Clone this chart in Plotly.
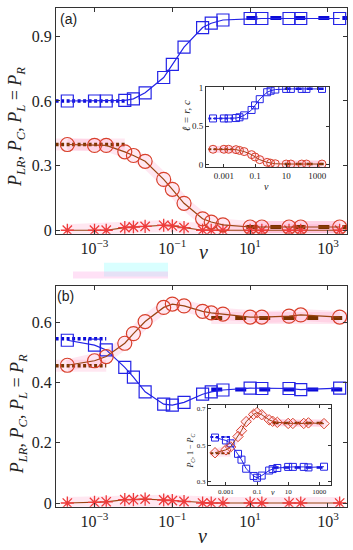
import plotly.graph_objects as go

W, H = 353, 550

# ---------------- data ----------------
nu = [2e-4, 1e-3, 2e-3, 6e-3, 1e-2, 2e-2, 6e-2, 0.1, 0.2, 0.6, 1, 2, 10, 20, 100, 200, 2000]

a_blue = [0.600, 0.600, 0.600, 0.603, 0.610, 0.638, 0.709, 0.770, 0.850, 0.941, 0.961, 0.976, 0.983, 0.983, 0.983, 0.983, 0.983]
a_red = [0.398, 0.394, 0.394, 0.364, 0.347, 0.320, 0.236, 0.190, 0.125, 0.053, 0.038, 0.025, 0.015, 0.015, 0.015, 0.015, 0.015]
a_star = [0.0, 0.0, 0.0, 0.012, 0.015, 0.018, 0.023, 0.020, 0.012, 0.0, 0.0, 0.0, 0.0, 0.0, 0.0, 0.0, 0.0]

a_in_blue = [0.600, 0.600, 0.600, 0.605, 0.615, 0.640, 0.710, 0.770, 0.850, 0.940, 0.960, 0.975, 0.983, 0.983, 0.983, 0.983, 0.983]
a_in_red = [0.200, 0.200, 0.200, 0.195, 0.185, 0.170, 0.130, 0.100, 0.065, 0.030, 0.020, 0.012, 0.008, 0.008, 0.008, 0.008, 0.008]

b_blue = [0.540, 0.524, 0.508, 0.450, 0.418, 0.369, 0.328, 0.325, 0.334, 0.361, 0.369, 0.375, 0.381, 0.380, 0.380, 0.376, 0.381]
b_red = [0.457, 0.472, 0.486, 0.530, 0.562, 0.602, 0.649, 0.660, 0.654, 0.636, 0.631, 0.627, 0.617, 0.617, 0.620, 0.624, 0.617]
b_star = [0.0, 0.002, 0.004, 0.011, 0.011, 0.013, 0.010, 0.008, 0.005, 0.0, 0.0, 0.0, 0.0, 0.0, 0.0, 0.0, 0.0]

b_in_blue = [0.542, 0.526, 0.510, 0.452, 0.420, 0.370, 0.330, 0.320, 0.332, 0.360, 0.368, 0.374, 0.380, 0.380, 0.380, 0.377, 0.381]
b_in_red = [0.458, 0.474, 0.490, 0.548, 0.580, 0.630, 0.670, 0.680, 0.668, 0.640, 0.632, 0.626, 0.620, 0.620, 0.620, 0.623, 0.619]

# theory limits: (x-span, level)
a_left_x = [1e-4, 6e-3]
a_left_blue = [0.600, 0.600]
a_left_red = [0.398, 0.398]
a_right_x = [8, 3100]
a_right_blue = [0.985, 0.985]
a_right_red = [0.015, 0.015]

b_left_x = [1e-4, 2e-3]
b_left_blue = [0.545, 0.545]
b_left_red = [0.455, 0.455]
b_right_x = [1, 3100]
b_right_blue = [0.377, 0.377]
b_right_red = [0.614, 0.614]

a_in_left_blue = [0.600, 0.600]
a_in_left_red = [0.200, 0.200]
a_in_right_blue = [0.985, 0.985]
a_in_right_red = [0.008, 0.008]
b_in_left_blue = [0.545, 0.545]
b_in_left_red = [0.455, 0.455]
b_in_right_blue = [0.377, 0.377]
b_in_right_red = [0.623, 0.623]

x_tickvals = [1e-3, 1e-1, 1e1, 1e3]
x_ticktext = ["10<sup>\u22123</sup>", "10<sup>\u22121</sup>", "10<sup>1</sup>", "10<sup>3</sup>"]
in_x_ticktext = ["0.001", "0.1", "10", "1000"]
a_yticks = [0, 0.3, 0.6, 0.9]
b_yticks = [0, 0.2, 0.4, 0.6]
a_in_yticks = [0, 0.5, 1]
b_in_yticks = [0.3, 0.5, 0.7]

# ---------------- styles ----------------
BLUE = "#2323e6"
BLUE_TH = "#0a0ad8"
RED = "#d8402c"
BROWN = "#9a4412"
BROWN_TH = "#7a3300"
STAR = "#ee3b3b"
PINK = "rgba(255,120,180,0.18)"
SERIF = "Liberation Serif"
FRAME = "#333333"


def px(x):
    return x / W


def py(y):
    return 1 - y / H


fig = go.Figure()


def add_panel(xa, ya, blue, red, star, lx, lb, lr, rx, rb, rr, small=False, red_symbol="circle-open"):
    ms = 7 if small else 12
    msc = 8 if small else 14
    lw = 1 if small else 1.2
    glow = 7 if small else 12
    kw = dict(xaxis=xa, yaxis=ya, showlegend=False, hoverinfo="skip")
    # pink glows
    fig.add_trace(go.Scatter(x=nu, y=red, mode="lines", line=dict(color=PINK, width=glow), **kw))
    if star is not None:
        fig.add_trace(go.Scatter(x=nu, y=star, mode="lines", line=dict(color=PINK, width=glow), **kw))
    fig.add_trace(go.Scatter(x=rx, y=rr, mode="lines", line=dict(color=PINK, width=glow), **kw))
    fig.add_trace(go.Scatter(x=lx, y=lr, mode="lines", line=dict(color=PINK, width=glow), **kw))
    # theory lines
    dw = 2 if small else 3.5
    fig.add_trace(go.Scatter(x=lx, y=lb, mode="lines", line=dict(color=BLUE_TH, width=dw, dash="3px,2.5px"), **kw))
    fig.add_trace(go.Scatter(x=lx, y=lr, mode="lines", line=dict(color=BROWN_TH, width=dw, dash="3px,2.5px"), **kw))
    dsh = "6px,5px" if small else "11px,13px"
    fig.add_trace(go.Scatter(x=rx, y=rb, mode="lines", line=dict(color=BLUE_TH, width=dw + 0.5, dash=dsh), **kw))
    fig.add_trace(go.Scatter(x=rx, y=rr, mode="lines", line=dict(color=BROWN_TH, width=dw + 0.5, dash=dsh), **kw))
    # data
    if star is not None:
        fig.add_trace(go.Scatter(x=nu, y=star, mode="lines+markers",
                                 line=dict(color=BROWN, width=lw),
                                 marker=dict(symbol="asterisk-open", size=11, color=STAR,
                                             line=dict(color=STAR, width=1.3)),
                                 **kw))
    fig.add_trace(go.Scatter(x=nu, y=blue, mode="lines+markers",
                             line=dict(color=BLUE, width=lw),
                             marker=dict(symbol="square-open", size=ms, color=BLUE, line=dict(color=BLUE, width=lw)),
                             **kw))
    fig.add_trace(go.Scatter(x=nu, y=red, mode="lines+markers",
                             line=dict(color=BROWN, width=lw),
                             marker=dict(symbol=red_symbol, size=msc, color=RED, line=dict(color=RED, width=lw)),
                             **kw))


add_panel("x", "y", a_blue, a_red, a_star, a_left_x, a_left_blue, a_left_red, a_right_x, a_right_blue, a_right_red)
add_panel("x2", "y2", b_blue, b_red, b_star, b_left_x, b_left_blue, b_left_red, b_right_x, b_right_blue, b_right_red)
add_panel("x3", "y3", a_in_blue, a_in_red, None, a_left_x, a_in_left_blue, a_in_left_red, a_right_x, a_in_right_blue, a_in_right_red, small=True)
add_panel("x4", "y4", b_in_blue, b_in_red, None, b_left_x, b_in_left_blue, b_in_left_red, b_right_x, b_in_right_blue, b_in_right_red, small=True, red_symbol="diamond-open")


def xaxis(dom, anchor, rng, ticktext, fs, tl):
    return dict(type="log", domain=dom, anchor=anchor, range=rng, tickvals=x_tickvals, ticktext=ticktext,
                ticks="inside", ticklen=tl, tickcolor=FRAME, showline=True, linecolor=FRAME, linewidth=1,
                mirror="ticks", showgrid=False, zeroline=False,
                tickfont=dict(family=SERIF, size=fs, color="#222"))


def yaxis(dom, anchor, rng, tv, fs, tl):
    return dict(domain=dom, anchor=anchor, range=rng, tickvals=tv,
                ticktext=[("%g" % v) for v in tv],
                ticks="inside", ticklen=tl, tickcolor=FRAME, showline=True, linecolor=FRAME, linewidth=1,
                mirror="ticks", showgrid=False, zeroline=False,
                tickfont=dict(family=SERIF, size=fs, color="#222"))


XR = [-3.99, 3.49]
XRI = [-4.15, 3.75]

fig.update_layout(
    width=W, height=H, margin=dict(l=0, r=0, t=0, b=0),
    paper_bgcolor="white", plot_bgcolor="white",
    xaxis=xaxis([px(56), px(347)], "y", XR, x_ticktext, 16, 4),
    yaxis=yaxis([py(233.5), py(4)], "x", [-0.016, 1.032], a_yticks, 16, 4),
    xaxis2=xaxis([px(56), px(347)], "y2", XR, x_ticktext, 16, 4),
    yaxis2=yaxis([py(511), py(287)], "x2", [-0.012, 0.719], b_yticks, 16, 4),
    xaxis3=xaxis([px(206), px(329)], "y3", XRI, in_x_ticktext, 9, 3),
    yaxis3=yaxis([py(166), py(84)], "x3", [-0.034, 1.013], a_in_yticks, 9, 3),
    xaxis4=xaxis([px(208), px(331)], "y4", XRI, in_x_ticktext, 7, 3),
    yaxis4=yaxis([py(489), py(408)], "x4", [0.28, 0.72], b_in_yticks, 7, 3),
)

ylab = "<i>P</i><sub><i>LR</i></sub>, <i>P</i><sub><i>C</i></sub>, <i>P</i><sub><i>L</i></sub> = <i>P</i><sub><i>R</i></sub>"
ann = [
    dict(x=px(17), y=py(125), text=ylab, textangle=-90, font=dict(family=SERIF, size=18, color="#222")),
    dict(x=px(18), y=py(417), text=ylab, textangle=-90, font=dict(family=SERIF, size=18, color="#222")),
    dict(x=px(203), y=py(252), text="<i>\u03bd</i>", font=dict(family=SERIF, size=20, color="#222")),
    dict(x=px(202), y=py(541), text="<i>\u03bd</i>", font=dict(family=SERIF, size=20, color="#222")),
    dict(x=px(68), y=py(15), text="(a)", font=dict(family="Liberation Sans", size=14, color="#222")),
    dict(x=px(65), y=py(297), text="(b)", font=dict(family="Liberation Sans", size=14, color="#222")),
    dict(x=px(186), y=py(114), text="<i>\u2113 = r, c</i>", textangle=-90, font=dict(family=SERIF, size=11, color="#222")),
    dict(x=px(266), y=py(186), text="<i>\u03bd</i>", font=dict(family=SERIF, size=10, color="#222")),
    dict(x=px(191), y=py(455), text="<i>P</i><sub><i>C</i></sub>, 1 \u2212 <i>P</i><sub><i>C</i></sub>", textangle=-90,
         font=dict(family=SERIF, size=8, color="#222")),
    dict(x=px(273), y=py(497), text="<i>\u03bd</i>", font=dict(family=SERIF, size=8, color="#222")),
]
for a in ann:
    a.update(xref="paper", yref="paper", showarrow=False, xanchor="center", yanchor="middle")
fig.update_layout(annotations=ann)

# faint colour artefacts between the panels
fig.add_shape(type="rect", xref="paper", yref="paper", x0=px(104), x1=px(168), y0=py(277), y1=py(263),
              fillcolor="rgba(170,255,255,0.45)", line=dict(width=0), layer="below")
fig.add_shape(type="rect", xref="paper", yref="paper", x0=px(73), x1=px(168), y0=py(279), y1=py(272),
              fillcolor="rgba(255,170,230,0.35)", line=dict(width=0), layer="below")

fig.write_html("out.html", config={"displayModeBar": False},
               post_script="document.body.style.margin='0';document.body.style.overflow='hidden';")
